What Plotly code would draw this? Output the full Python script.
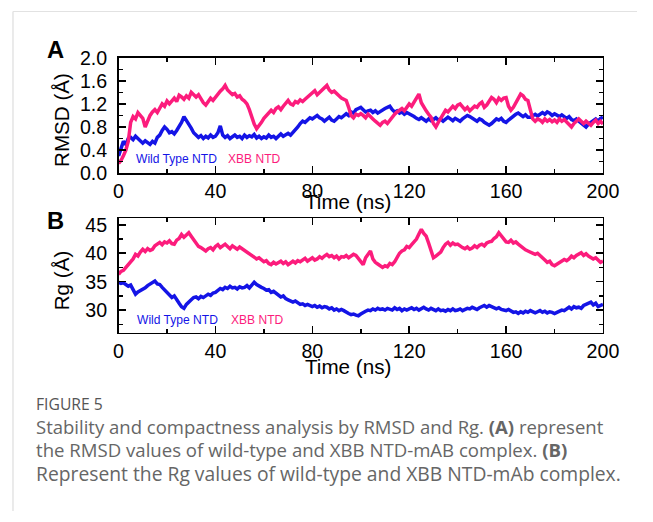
import plotly.graph_objects as go

time_ns = list(range(0, 201))

rmsd_wt = [
    0.30, 0.42, 0.55, 0.50, 0.60, 0.62, 0.58, 0.64, 0.60, 0.57,
    0.52, 0.56, 0.53, 0.50, 0.55, 0.52, 0.62, 0.66, 0.74, 0.80,
    0.76, 0.70, 0.72, 0.68, 0.74, 0.80, 0.88, 0.98, 0.92, 0.86,
    0.78, 0.70, 0.66, 0.62, 0.65, 0.60, 0.64, 0.61, 0.66, 0.62,
    0.64, 0.70, 0.82, 0.66, 0.62, 0.65, 0.60, 0.63, 0.66, 0.62,
    0.64, 0.60, 0.66, 0.62, 0.65, 0.63, 0.67, 0.61, 0.64, 0.60,
    0.63, 0.61, 0.66, 0.62, 0.64, 0.60, 0.65, 0.68, 0.64, 0.66,
    0.69, 0.66, 0.70, 0.74, 0.80, 0.86, 0.90, 0.88, 0.92, 0.96,
    0.94, 0.98, 1.00, 0.96, 0.94, 0.90, 0.93, 0.97, 0.92, 0.90,
    0.94, 0.98, 0.96, 1.00, 1.03, 1.00, 1.06, 1.04, 1.10, 1.12,
    1.14, 1.10, 1.06, 1.08, 1.09, 1.05, 1.08, 1.04, 1.07, 1.10,
    1.12, 1.14, 1.16, 1.10, 1.06, 1.08, 1.04, 1.06, 1.02, 1.05,
    1.03, 1.00, 0.98, 0.95, 0.93, 0.96, 0.92, 0.90, 0.94, 0.91,
    0.93, 0.96, 0.92, 0.94, 0.90, 0.93, 0.97, 0.94, 0.91, 0.95,
    0.92, 0.90, 0.94, 0.97, 1.00, 0.98, 0.95, 0.93, 0.90, 0.94,
    0.92, 0.88, 0.85, 0.83, 0.86, 0.90, 0.94, 0.92, 0.95, 0.90,
    0.88, 0.92, 0.96, 1.00, 1.02, 1.04, 1.00, 0.98, 1.01, 0.97,
    0.97, 1.00, 1.02, 0.99, 1.03, 1.05, 1.02, 1.06, 1.04, 1.00,
    1.03, 1.00, 0.98, 1.01, 0.97, 0.95, 0.98, 0.93, 0.91, 0.94,
    0.90, 0.86, 0.84, 0.80, 0.85, 0.88, 0.91, 0.94, 0.90, 0.95,
    0.97,
]

rmsd_xbb = [
    0.17, 0.22, 0.30, 0.40, 0.55, 0.88, 0.98, 0.94, 1.05, 1.00,
    0.95, 0.80, 0.90, 1.00, 1.06, 1.10, 1.05, 1.14, 1.20, 1.16,
    1.25, 1.20, 1.26, 1.30, 1.24, 1.35, 1.32, 1.28, 1.34, 1.30,
    1.40, 1.36, 1.32, 1.36, 1.28, 1.22, 1.18, 1.24, 1.30, 1.26,
    1.32, 1.36, 1.42, 1.46, 1.52, 1.44, 1.40, 1.36, 1.38, 1.32,
    1.34, 1.28, 1.25, 1.20, 1.10, 0.96, 0.85, 0.77, 0.82, 0.88,
    0.95, 1.00, 1.04, 1.09, 1.05, 1.12, 1.15, 1.10, 1.16, 1.22,
    1.26, 1.20, 1.18, 1.24, 1.22, 1.27, 1.24, 1.28, 1.32, 1.36,
    1.40, 1.43, 1.36, 1.40, 1.42, 1.48, 1.52, 1.44, 1.40, 1.42,
    1.37, 1.34, 1.30, 1.28, 1.26, 1.14, 1.00, 0.96, 1.02, 1.00,
    1.03, 1.00, 0.96, 1.02, 0.97, 0.94, 0.90, 0.86, 0.83, 0.88,
    0.90, 0.86, 0.92, 0.96, 1.02, 1.06, 1.09, 1.12, 1.08, 1.15,
    1.20, 1.16, 1.24, 1.30, 1.37, 1.22, 1.14, 1.08, 1.02, 0.97,
    0.86, 0.80, 0.88, 0.96, 1.04, 1.09, 1.06, 1.12, 1.16, 1.12,
    1.18, 1.20, 1.14, 1.10, 1.14, 1.08, 1.12, 1.16, 1.14, 1.20,
    1.23, 1.14, 1.18, 1.24, 1.31, 1.28, 1.22, 1.30, 1.26, 1.30,
    1.31, 1.16, 1.09, 1.14, 1.22, 1.30, 1.37, 1.34, 1.28, 1.26,
    1.10, 0.94, 0.90, 0.94, 0.92, 0.88, 0.94, 0.90, 0.93, 0.89,
    0.92, 0.88, 0.94, 0.90, 0.93, 0.88, 0.84, 0.80, 0.86, 0.90,
    0.94, 0.90, 0.86, 0.90, 0.87, 0.83, 0.88, 0.92, 0.86, 0.90,
    0.85,
]

rg_wt = [
    34.9, 34.7, 34.8, 34.5, 34.2, 34.4, 33.6, 32.8, 33.2, 33.4,
    33.7, 33.9, 34.3, 34.6, 34.9, 35.1, 34.6, 34.5, 34.0, 33.6,
    33.0, 32.6, 32.2, 32.5, 31.7, 31.2, 30.6, 30.3, 31.0, 31.5,
    31.8, 32.2, 32.3, 32.0, 32.4, 32.2, 32.5, 32.8, 32.6, 33.0,
    33.1, 33.5, 33.8, 33.6, 34.0, 33.8, 34.2, 33.9, 34.0, 33.7,
    34.1, 33.9, 34.0, 34.3, 33.9, 34.4, 34.9, 34.5, 34.2, 34.0,
    33.8, 33.5, 33.6, 33.1, 33.3, 32.9, 32.6, 32.3, 32.5, 32.0,
    31.8, 31.6, 31.4, 31.6, 31.2, 31.0, 31.1, 30.8, 31.0, 30.8,
    30.6, 30.8, 30.5, 30.7, 30.4, 30.6, 30.5, 30.2, 30.4, 30.0,
    30.2, 29.9, 30.1, 29.9, 29.6, 29.4, 29.2, 29.3, 29.1, 29.0,
    29.3, 29.6, 29.8, 30.0, 29.9, 30.2, 30.0, 30.3, 30.1, 30.2,
    30.0, 30.3, 30.2, 30.0, 30.4, 30.1, 30.3, 29.9, 30.2, 30.0,
    30.2, 30.4, 30.1, 30.3, 30.0, 30.2, 30.5, 30.2, 30.0, 30.3,
    30.1, 29.9, 30.2, 29.9, 30.0, 29.8, 30.1, 29.9, 30.2, 29.9,
    30.0, 30.2, 29.9, 30.1, 30.3, 30.2, 30.5, 30.3, 30.1, 30.4,
    30.6, 30.8, 30.5, 30.8, 30.6, 30.4, 30.2, 30.4, 30.1, 30.0,
    29.9, 30.1, 29.8, 29.6, 29.7, 29.4, 29.7, 29.5, 29.8, 29.6,
    29.9, 29.7, 29.5, 29.7, 29.9, 29.6, 29.8, 29.5, 29.7, 29.6,
    29.4, 29.6, 29.8, 30.0, 29.9, 30.3, 30.5, 30.2, 30.6, 30.4,
    30.5, 30.3, 30.8, 31.0, 31.2, 31.4, 30.9, 31.2, 30.6, 30.8,
    31.0,
]

rg_xbb = [
    36.3, 36.8, 37.0, 37.5, 37.9, 38.3, 39.0, 39.8, 39.5, 40.2,
    40.7, 40.3, 40.8, 40.5, 40.7, 41.3, 41.6, 41.9, 41.5, 42.0,
    41.8, 42.2, 41.7, 41.6, 42.3, 42.6, 43.3, 42.8, 43.2, 43.6,
    43.0, 42.4, 41.6, 41.2, 41.0, 40.6, 40.4, 40.8, 41.0, 40.6,
    41.2, 41.5, 41.0, 41.3, 41.6, 41.2, 40.8, 41.3, 41.0, 40.7,
    41.1, 40.8, 40.6, 40.3, 40.0, 39.6, 39.4, 39.0, 39.2, 38.9,
    38.5, 38.7, 38.2, 38.0, 38.4, 38.1, 38.3, 38.6, 38.2, 38.5,
    38.0, 38.4, 38.6, 38.3, 38.7, 38.5, 38.8, 39.1, 38.6, 38.9,
    39.2, 38.8, 39.0, 39.4, 39.1, 39.5, 39.8, 39.4, 39.6, 39.2,
    39.5, 39.0, 39.4, 39.3, 39.6, 39.2, 39.5, 39.8, 39.6, 39.0,
    38.4, 38.0, 39.2, 39.8, 40.4, 39.0, 38.4, 38.1, 37.8, 37.5,
    37.8, 37.6, 38.2, 38.0, 38.5, 39.2, 40.0, 40.4, 40.6, 41.2,
    41.0, 41.5, 41.9, 42.5, 43.4, 44.2, 43.5, 43.0, 41.8, 40.4,
    39.2, 39.5, 39.8, 40.2, 41.0, 41.6, 41.9, 41.4, 41.8, 41.5,
    41.6, 41.2, 41.0, 40.8, 41.1, 40.7, 40.9, 41.3, 41.0, 41.4,
    41.6, 41.3, 41.8, 42.0, 42.1, 42.6, 42.9, 43.6, 43.0, 42.5,
    42.0, 41.9, 42.3, 41.8, 42.0, 41.6, 41.2, 41.0, 40.6, 40.4,
    40.2, 40.0, 39.8, 40.0, 39.5, 39.2, 38.8, 38.4, 38.6, 38.0,
    37.8, 38.1, 38.4, 38.6, 38.9, 38.7, 39.0, 39.5, 39.2, 39.6,
    39.8, 40.1, 39.6, 39.9, 39.5, 39.3, 39.0, 39.2, 38.7, 38.4,
    38.6,
]

x_ticks = [0, 40, 80, 120, 160, 200]
rmsd_ticks = [0.0, 0.4, 0.8, 1.2, 1.6, 2.0]
rg_ticks = [30, 35, 40, 45]

BLUE = "#1414e6"
PINK = "#fc1c7c"
FONT = "Liberation Sans, Arial, sans-serif"

W, H = 653, 522
SX, OX = 0.969, 4.0
SY, OY = 0.968, 7.8
FS = 1 / SX


def px(x):
    return ((x - OX) / SX) / W


def py(y):
    return 1 - ((y - OY) / SY) / H


def f(s):
    return round(s * FS, 2)


xd = [px(117.7), px(602.7)]
ydA = [py(171.7), py(55)]
ydB = [py(333), py(217)]

LW = 3.5
fig = go.Figure()
fig.add_trace(go.Scatter(x=time_ns, y=rmsd_wt, mode="lines", line=dict(color=BLUE, width=LW),
                         xaxis="x", yaxis="y", showlegend=False))
fig.add_trace(go.Scatter(x=time_ns, y=rmsd_xbb, mode="lines", line=dict(color=PINK, width=LW),
                         xaxis="x", yaxis="y", showlegend=False))
fig.add_trace(go.Scatter(x=time_ns, y=rg_wt, mode="lines", line=dict(color=BLUE, width=LW),
                         xaxis="x2", yaxis="y2", showlegend=False))
fig.add_trace(go.Scatter(x=time_ns, y=rg_xbb, mode="lines", line=dict(color=PINK, width=LW),
                         xaxis="x2", yaxis="y2", showlegend=False))

axis_common = dict(
    showgrid=False, zeroline=False, showline=True, linecolor="black", linewidth=1.5,
    ticks="inside", ticklen=7, tickwidth=1.5, tickcolor="black", mirror="ticks",
    tickfont=dict(family=FONT, size=f(19), color="black"),
)
minor_x = dict(ticks="inside", ticklen=4, tickwidth=1.5, dtick=20, tickcolor="black")

fig.update_layout(
    autosize=True,
    paper_bgcolor="white", plot_bgcolor="white",
    margin=dict(l=0, r=0, t=0, b=0),
    xaxis=dict(domain=xd, anchor="y", range=[0, 200], tickvals=x_ticks, minor=minor_x, **axis_common),
    yaxis=dict(domain=ydA, anchor="x", range=[0, 2.0], tickvals=rmsd_ticks, tickformat=".1f",
               ticklabelstandoff=6,
               minor=dict(ticks="inside", ticklen=4, tickwidth=1.5, dtick=0.2, tickcolor="black"),
               **axis_common),
    xaxis2=dict(domain=xd, anchor="y2", range=[0, 200], tickvals=x_ticks, minor=minor_x, **axis_common),
    yaxis2=dict(domain=ydB, anchor="x2", range=[26, 46.2], tickvals=rg_ticks,
                ticklabelstandoff=6,
                minor=dict(ticks="inside", ticklen=4, tickwidth=1.5, dtick=2.5, tick0=27.5, tickcolor="black"),
                **axis_common),
)


def ann(text, x, y, size, color="black", bold=False, xanchor="center", yanchor="middle", angle=0,
        family=FONT, align="center"):
    fig.add_annotation(text=("<b>%s</b>" % text) if bold else text, x=px(x), y=py(y),
                       xref="paper", yref="paper", showarrow=False,
                       font=dict(family=family, size=size, color=color), align=align,
                       xanchor=xanchor, yanchor=yanchor, textangle=angle)


ann("A", 55, 47, f(23), bold=True)
ann("B", 55, 220, f(23), bold=True)
ann("RMSD (Å)", 60, 118, f(20), angle=-90)
ann("Rg (Å)", 60, 280, f(20), angle=-90)
ann("Time (ns)", 347, 200, f(20))
ann("Time (ns)", 347, 367, f(20))
ann("Wild Type NTD", 133, 157, f(11.7), color=BLUE, xanchor="left")
ann("XBB NTD", 225, 157, f(11.7), color=PINK, xanchor="left")
ann("Wild Type NTD", 134, 320, f(11.7), color=BLUE, xanchor="left")
ann("XBB NTD", 228, 320, f(11.7), color=PINK, xanchor="left")

CAP = "Open Sans, Noto Sans, sans-serif"
caption = (
    '<span style="font-size:15.7px;color:#555555">FIGURE 5</span><br>'
    '<span style="font-size:18.5px">Stability and compactness analysis by RMSD and Rg. <b>(A)</b> represent</span><br>'
    '<span style="font-size:18.6px">the RMSD values of wild-type and XBB NTD-mAB complex. <b>(B)</b></span><br>'
    '<span style="font-size:19.3px">Represent the Rg values of wild-type and XBB NTD-mAb complex.</span>'
)
ann(caption, 33, 441, 18.2, color="#666666", xanchor="left", family=CAP, align="left")

fig.add_shape(type="line", xref="paper", yref="paper", x0=px(12), x1=px(12), y0=0, y1=py(8.3),
              line=dict(color="#d6d6d6", width=1))
fig.add_shape(type="line", xref="paper", yref="paper", x0=px(12), x1=1, y0=py(8.3), y1=py(8.3),
              line=dict(color="#e2e2e2", width=1))

fig.write_html(
    "out.html",
    config={"displayModeBar": False, "staticPlot": True, "responsive": True},
    default_width="100vw",
    default_height="100vh",
    post_script="document.body.style.margin='0';document.body.style.overflow='hidden';"
                "document.documentElement.style.overflow='hidden';"
                "window.dispatchEvent(new Event('resize'));",
)
